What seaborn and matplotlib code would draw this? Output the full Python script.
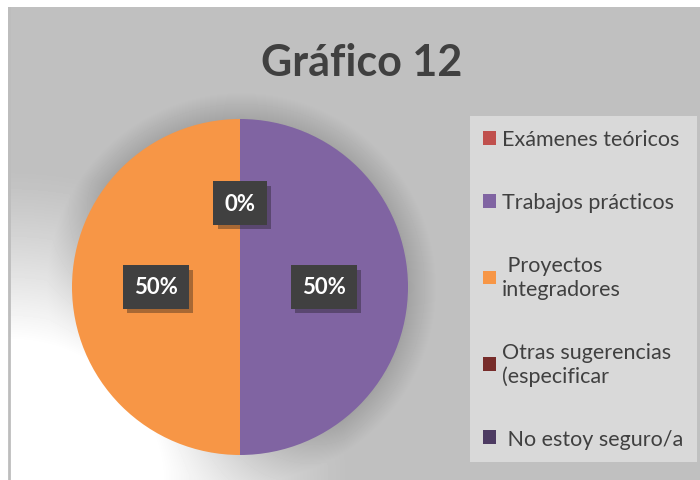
import numpy as np
import seaborn as sns
import matplotlib.pyplot as plt
import matplotlib.patheffects as pe

categorias = ["Exámenes teóricos", "Trabajos prácticos", " Proyectos\nintegradores",
              "Otras sugerencias\n(especificar", " No estoy seguro/a"]
porcentajes = [0, 50, 50, 0, 0]
colores = ["#c0504d", "#8064a2", "#f79646", "#772c2a", "#4d3b62"]

sns.set_style("white")
plt.rcParams['font.family'] = ['Lato', 'DejaVu Sans']

W, H = 700, 481
fig = plt.figure(figsize=(7, 4.81), dpi=100)
fig.patch.set_facecolor("white")

# gray chart area: white glow bottom-left, soft dark halo round the pie
bg = fig.add_axes([8 / W, 0, 1 - 8 / W, 1 - 8 / H])
yy, xx = np.mgrid[0:473, 0:692]
d = np.sqrt((xx / 340.0) ** 2 + ((yy - 473) / 310.0) ** 2)
light = np.clip((1 - d) / 0.55, 0, 1) ** 1.2
r = np.sqrt((xx - 233) ** 2 + (yy - 280) ** 2)
halo = np.clip(1 - (r - 165) / 30.0, 0, 1) * (r > 150)
img = 0.752 + (1.0 - 0.752) * light - 0.12 * halo * (1 - light)
bg.imshow(img, cmap="gray", vmin=0, vmax=1, aspect="auto", interpolation="bilinear")
bg.axvline(0, color="#bdbdbd", lw=2)
bg.set_axis_off()

# pie
ax = fig.add_axes([72 / W, (H - 456) / H, 336 / W, 336 / H])
wedges, _, autotexts = ax.pie(porcentajes, colors=colores, startangle=90, counterclock=False,
                              autopct="%1.0f%%", pctdistance=0.5, radius=1,
                              wedgeprops=dict(linewidth=0))
ax.set_xlim(-1, 1)
ax.set_ylim(-1, 1)
for i, t in enumerate(autotexts):
    if i > 2:
        t.set_visible(False)  # the other 0% labels sit on the same spot
        continue
    t.set_color("white")
    t.set_fontsize(16)
    t.set_fontweight("bold")
    t.set_bbox(dict(boxstyle="square,pad=0.5", fc="#404040", ec="none"))
    t.get_bbox_patch().set_path_effects([pe.withSimplePatchShadow(offset=(3, -3), alpha=0.35)])

fig.text(362 / W, 1 - 63 / H, "Gráfico 12", ha="center", va="center",
         fontsize=31, fontweight="bold", color="#404040")

leg = fig.legend(wedges, categorias, loc="upper left",
                 bbox_to_anchor=(470 / W, 0, 227 / W, 1 - 117 / H), mode="expand",
                 frameon=True, fancybox=False, fontsize=15.5, labelcolor="#404040",
                 handlelength=0.6, handleheight=0.6, handletextpad=0.25,
                 labelspacing=2.0, borderpad=0.62, borderaxespad=0)
leg.get_frame().set_facecolor("#d9d9d9")
leg.get_frame().set_edgecolor("none")
leg.get_frame().set_alpha(1)

fig.savefig("out.png", dpi=100)
